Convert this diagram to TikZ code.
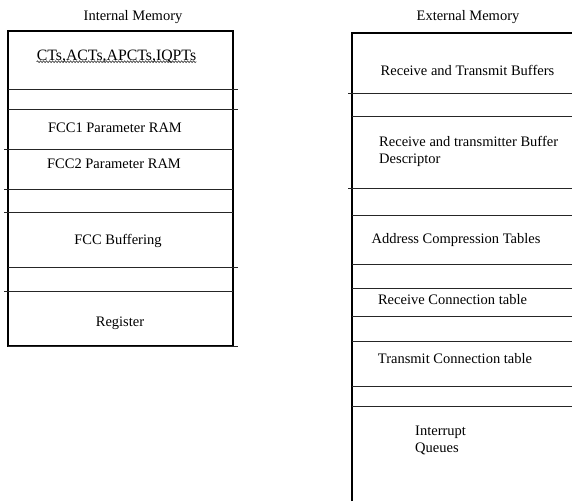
\documentclass[tikz,border=0pt]{standalone}
\usepackage{fontspec}
\setmainfont{Liberation Serif}
\usetikzlibrary{decorations.pathmorphing}
\begin{document}
\begin{tikzpicture}[x=1pt,y=-1pt,
  boxline/.style={line width=1.6pt,black},
  divline/.style={line width=1pt,black!85},
  lbl/.style={font=\fontsize{14.5}{15}\selectfont,inner sep=0pt,anchor=center},
  lbll/.style={font=\fontsize{14.5}{17.5}\selectfont,inner sep=0pt,anchor=west,align=left},
  squiggle/.style={decorate,decoration={snake,amplitude=0.9pt,segment length=3pt},line width=0.6pt,black!80}]
\useasboundingbox (0,0) rectangle (572,501);
% ---------- Internal memory ----------
\node[lbl] (intitle) at (133,17) {Internal Memory};
\draw[boxline] (8,31) rectangle (233,346);
\draw[divline] (8,89.5) -- (238,89.5);
\draw[divline] (8,109) -- (238,109);
\draw[divline] (4,149) -- (233,149);
\draw[divline] (4,189) -- (233,189);
\draw[divline] (4,212) -- (233,212);
\draw[divline] (8,267) -- (238,267);
\draw[divline] (4,291) -- (233,291);
\draw[divline] (8,346) -- (238,346);
\node[lbl,font=\fontsize{15.8}{16}\selectfont] (cts) at (116.5,57) {CTs,ACTs,APCTs,IQPTs};
\draw[squiggle] ([yshift=2pt]cts.south west) -- ([yshift=2pt]cts.south east);
\node[lbl] (fcc1) at (115,128) {FCC1 Parameter RAM};
\node[lbl] (fcc2) at (114,164) {FCC2 Parameter RAM};
\node[lbl] (fccbuf) at (118,241) {FCC Buffering};
\node[lbl] (reg) at (120,323) {Register};
% ---------- External memory ----------
\node[lbl] (extitle) at (468,17) {External Memory};
\draw[boxline] (352,501) -- (352,33) -- (574,33);
\draw[divline] (348,93) -- (572,93);
\draw[divline] (352,116) -- (572,116);
\draw[divline] (348,188) -- (572,188);
\draw[divline] (352,215) -- (572,215);
\draw[divline] (352,264) -- (572,264);
\draw[divline] (352,288) -- (572,288);
\draw[divline] (352,316) -- (572,316);
\draw[divline] (352,341) -- (572,341);
\draw[divline] (352,386) -- (572,386);
\draw[divline] (352,406) -- (572,406);
\node[lbl] (rtb) at (467.5,70) {Receive and Transmit Buffers};
\node[lbll] (rtbd) at (379,151.5) {Receive and transmitter Buffer\\Descriptor};
\node[lbl] (act) at (456,240) {Address Compression Tables};
\node[lbl] (rct) at (452.5,300) {Receive Connection table};
\node[lbl] (tct) at (455,359) {Transmit Connection table};
\node[lbll] (iq) at (415,440.5) {Interrupt\\Queues};
\end{tikzpicture}
\end{document}
